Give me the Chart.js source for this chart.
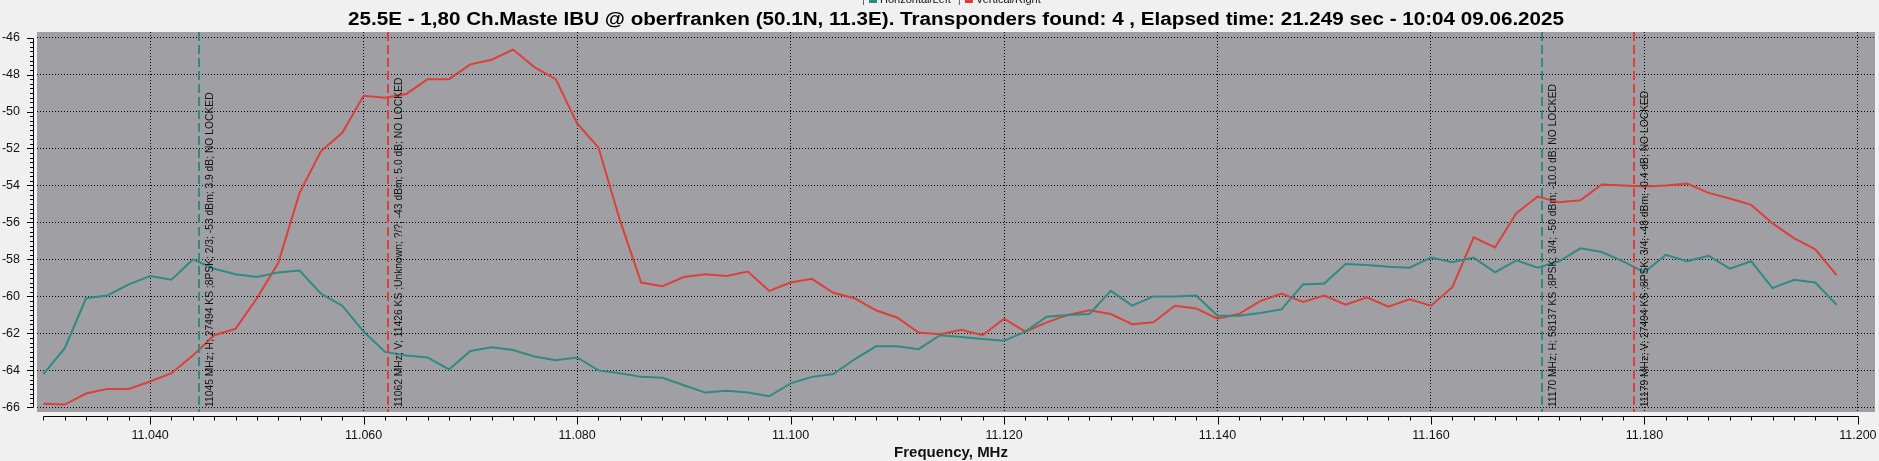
<!DOCTYPE html>
<html lang="en">
<head>
<meta charset="UTF-8">
<title>25.5E spectrum scan</title>
<script src="https://cdn.jsdelivr.net/npm/chart.js@4"></script>
<style>
  html, body { margin: 0; padding: 0; background: #f0f0f0; }
  #wrap { width: 1879px; height: 461px; }
</style>
</head>
<body>
<div id="wrap"><canvas id="spectrum" width="1879" height="461"></canvas></div>
<script>
// sweep points (GHz), 2 MHz step
var FREQS = [
  11.030, 11.032, 11.034, 11.036, 11.038, 11.040, 11.042, 11.044, 11.046, 11.048,
  11.050, 11.052, 11.054, 11.056, 11.058, 11.060, 11.062, 11.064, 11.066, 11.068,
  11.070, 11.072, 11.074, 11.076, 11.078, 11.080, 11.082, 11.084, 11.086, 11.088,
  11.090, 11.092, 11.094, 11.096, 11.098, 11.100, 11.102, 11.104, 11.106, 11.108,
  11.110, 11.112, 11.114, 11.116, 11.118, 11.120, 11.122, 11.124, 11.126, 11.128,
  11.130, 11.132, 11.134, 11.136, 11.138, 11.140, 11.142, 11.144, 11.146, 11.148,
  11.150, 11.152, 11.154, 11.156, 11.158, 11.160, 11.162, 11.164, 11.166, 11.168,
  11.170, 11.172, 11.174, 11.176, 11.178, 11.180, 11.182, 11.184, 11.186, 11.188,
  11.190, 11.192, 11.194, 11.196, 11.198
];

// level, dBm
var HORIZONTAL = [
  -64.2, -62.8, -60.1, -59.95, -59.35, -58.9, -59.1, -58.0, -58.5, -58.8,
  -58.95, -58.7, -58.6, -59.85, -60.5, -61.9, -63.0, -63.2, -63.3, -63.95,
  -62.95, -62.75, -62.9, -63.25, -63.45, -63.3, -64.0, -64.15, -64.35, -64.4,
  -64.8, -65.2, -65.1, -65.2, -65.4, -64.7, -64.35, -64.2, -63.4, -62.7,
  -62.7, -62.85, -62.1, -62.2, -62.3, -62.4, -61.9, -61.1, -61.0, -60.95,
  -59.7, -60.5, -60.0, -60.0, -59.95, -61.05, -61.05, -60.9, -60.7, -59.35,
  -59.3, -58.25, -58.3, -58.4, -58.45, -57.9, -58.15, -57.9, -58.7, -58.05,
  -58.45, -58.1, -57.4, -57.6, -58.1, -58.7, -57.75, -58.1, -57.8, -58.5,
  -58.1, -59.55, -59.1, -59.25, -60.45
];

var VERTICAL = [
  -65.8, -65.85, -65.25, -65.0, -65.0, -64.6, -64.15, -63.2, -62.1, -61.75,
  -60.1, -58.2, -54.4, -52.15, -51.15, -49.15, -49.25, -49.05, -48.25, -48.25,
  -47.45, -47.2, -46.65, -47.6, -48.25, -50.65, -51.95, -55.85, -59.25, -59.45,
  -58.95, -58.8, -58.9, -58.65, -59.7, -59.25, -59.05, -59.8, -60.1, -60.75,
  -61.15, -61.95, -62.05, -61.8, -62.1, -61.2, -61.9, -61.4, -61.0, -60.75,
  -60.95, -61.5, -61.4, -60.5, -60.65, -61.2, -60.95, -60.25, -59.85, -60.3,
  -59.95, -60.45, -60.05, -60.55, -60.15, -60.5, -59.5, -56.8, -57.35, -55.5,
  -54.6, -54.9, -54.8, -53.95, -54.0, -54.05, -54.0, -53.9, -54.4, -54.7,
  -55.05, -56.05, -56.85, -57.45, -58.85
];

var SERIES_NAMES = ['Horizontal/Left', 'Vertical/Right'];

var Y_TICKS = [-66, -64, -62, -60, -58, -56, -54, -52, -50, -48, -46];
var X_TICKS = [11.04, 11.06, 11.08, 11.10, 11.12, 11.14, 11.16, 11.18, 11.20];

// found transponders
var TP_FREQS = [11.0446, 11.0623, 11.1704, 11.1790];
var TP_LABELS = [
  '11045 MHz; H; 27494 KS ;8PSK; 2/3; -53 dBm; 3.9 dB; NO LOCKED',
  '11062 MHz; V; 11426 KS ;Unknown; ?/?; -43 dBm; 5.0 dB; NO LOCKED',
  '11170 MHz; H; 58137 KS ;8PSK; 3/4; -50 dBm; -10.0 dB; NO LOCKED',
  '11179 MHz; V; 27494 KS ;8PSK; 3/4; -48 dBm; -0.4 dB; NO LOCKED'
];

var TITLE = '25.5E - 1,80 Ch.Maste IBU @ oberfranken (50.1N, 11.3E). Transponders found: 4 , Elapsed time: 21.249 sec - 10:04 09.06.2025';
var X_TITLE = 'Frequency, MHz';

var TEAL = '#2f8a84';
var RED = '#dc3f3c';
var FONT = '"Liberation Sans", Arial, sans-serif';

function pts(ys) {
  return FREQS.map(function (f, i) { return { x: f, y: ys[i] }; });
}

// grey plot area, axes with minor ticks, markers, titles
var decor = {
  id: 'decor',
  beforeDraw: function (chart) {
    var a = chart.chartArea, c = chart.ctx;
    c.save();
    c.fillStyle = '#a0a0a4';
    c.fillRect(a.left, a.top, a.right - a.left, a.bottom - a.top);
    c.restore();
  },
  afterDatasetsDraw: function (chart) {
    var a = chart.chartArea, c = chart.ctx, xs = chart.scales.x;
    c.save();
    TP_FREQS.forEach(function (f, i) {
      var px = Math.round(xs.getPixelForValue(f));
      var col = TP_LABELS[i].indexOf('; H;') > 0 ? TEAL : RED;
      c.strokeStyle = col;
      c.lineWidth = 2;
      c.setLineDash([9, 4]);
      c.beginPath();
      c.moveTo(px, a.top);
      c.lineTo(px, a.bottom);
      c.stroke();
      c.setLineDash([]);

      c.save();
      c.translate(px + 13.5, a.bottom - 5);
      c.rotate(-Math.PI / 2);
      c.fillStyle = '#111';
      c.font = '10.3px ' + FONT;
      c.textAlign = 'left';
      c.textBaseline = 'alphabetic';
      c.fillText(TP_LABELS[i], 0, 0);
      c.restore();
    });
    c.restore();
  },
  afterDraw: function (chart) {
    var a = chart.chartArea, c = chart.ctx;
    var xs = chart.scales.x, ys = chart.scales.y;
    c.save();
    c.strokeStyle = '#000';
    c.lineWidth = 1;

    // y axis
    var ax = 33.5;
    var yTop = Math.round(ys.getPixelForValue(-46)) + 0.5;
    var yBot = Math.round(ys.getPixelForValue(-66)) + 0.5;
    c.beginPath();
    c.moveTo(ax, yTop);
    c.lineTo(ax, yBot);
    for (var k = 0; k <= 80; k++) {
      var v = -66 + k * 0.25;
      var py = Math.round(ys.getPixelForValue(v)) + 0.5;
      c.moveTo(k % 8 === 0 ? 27 : 30, py);
      c.lineTo(ax, py);
    }
    c.stroke();

    // x axis
    var ay = Math.round(a.bottom) + 4.5;
    var x0 = Math.round(xs.getPixelForValue(11.030)) + 0.5;
    var x1 = Math.round(xs.getPixelForValue(11.200)) + 0.5;
    c.beginPath();
    c.moveTo(x0, ay);
    c.lineTo(x1, ay);
    for (var j = 0; j <= 85; j++) {
      var px = Math.round(xs.getPixelForValue(11.030 + j * 0.002)) + 0.5;
      c.moveTo(px, ay);
      c.lineTo(px, ay + (j % 10 === 5 ? 8 : 4));
    }
    c.stroke();

    // x title
    c.fillStyle = '#111';
    c.font = 'bold 15px ' + FONT;
    c.textAlign = 'center';
    c.textBaseline = 'middle';
    c.fillText(X_TITLE, (x0 + x1) / 2, 453);

    // chart title, squeezed to the original width
    c.font = 'bold 17.5px ' + FONT;
    var w = c.measureText(TITLE).width;
    c.save();
    c.translate((a.left + a.right) / 2, 20);
    c.scale(1216 / w, 1);
    c.fillStyle = '#000';
    c.fillText(TITLE, 0, 0);
    c.restore();

    // legend strip, cut off by the top edge
    c.font = '11px ' + FONT;
    c.textAlign = 'left';
    c.textBaseline = 'alphabetic';
    var lx = 863;
    [TEAL, RED].forEach(function (col, i) {
      c.fillStyle = '#666';
      c.fillRect(lx, -2, 1, 7);
      c.fillStyle = col;
      c.fillRect(lx + 6, -4, 8, 7);
      c.fillStyle = '#111';
      c.fillText(SERIES_NAMES[i], lx + 17, 3);
      lx += 17 + c.measureText(SERIES_NAMES[i]).width + 8;
    });
    c.restore();
  }
};

new Chart(document.getElementById('spectrum').getContext('2d'), {
  type: 'line',
  data: {
    datasets: [
      { label: SERIES_NAMES[0], data: pts(HORIZONTAL), borderColor: TEAL, borderWidth: 2, pointRadius: 0, tension: 0 },
      { label: SERIES_NAMES[1], data: pts(VERTICAL), borderColor: RED, borderWidth: 2, pointRadius: 0, tension: 0 }
    ]
  },
  options: {
    responsive: false,
    animation: false,
    devicePixelRatio: 1,
    layout: { padding: { top: 32, right: 4, left: 0, bottom: 0 } },
    plugins: {
      legend: { display: false },
      title: { display: false },
      tooltip: { enabled: false }
    },
    scales: {
      x: {
        type: 'linear',
        min: 11.0294,
        max: 11.2016,
        afterFit: function (s) { s.height = 49; s.paddingLeft = 0; s.paddingRight = 0; },
        afterBuildTicks: function (s) { s.ticks = X_TICKS.map(function (v) { return { value: v }; }); },
        grid: { color: '#000', lineWidth: 1, drawTicks: false },
        border: { display: false, dash: [1, 2] },
        ticks: {
          autoSkip: false, maxRotation: 0, padding: 16, color: '#111',
          font: { family: FONT, size: 12.5 },
          callback: function (v) { return Number(v).toFixed(3); }
        }
      },
      y: {
        min: -66.25,
        max: -45.7,
        afterFit: function (s) { s.width = 37; s.paddingTop = 0; s.paddingBottom = 0; },
        afterBuildTicks: function (s) { s.ticks = Y_TICKS.map(function (v) { return { value: v }; }); },
        grid: { color: '#000', lineWidth: 1, drawTicks: false },
        border: { display: false, dash: [1, 2] },
        ticks: {
          padding: 17, color: '#111',
          font: { family: FONT, size: 12.5 },
          callback: function (v) { return String(v); }
        }
      }
    }
  },
  plugins: [decor]
});
</script>
</body>
</html>
